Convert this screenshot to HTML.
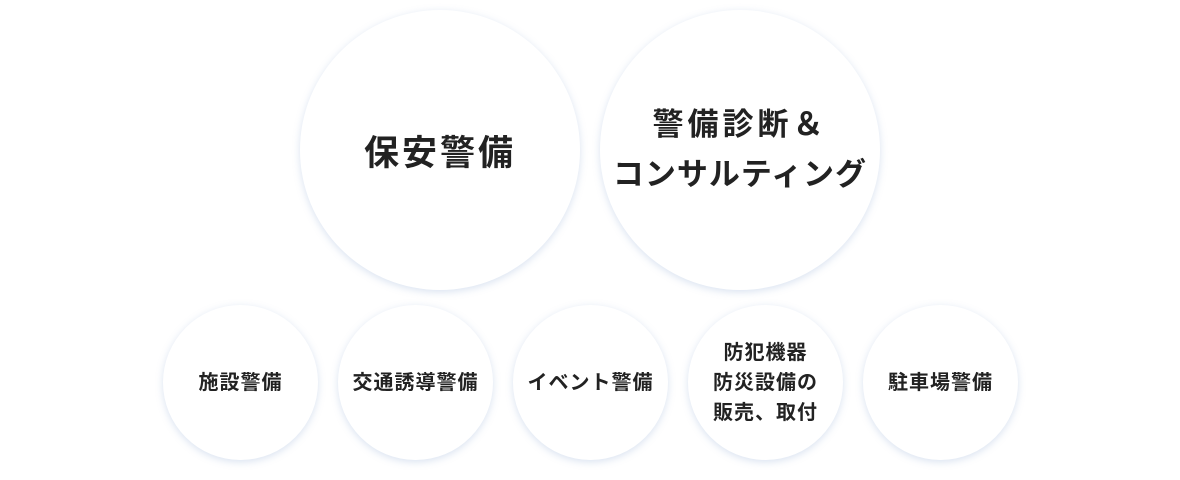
<!DOCTYPE html>
<html><head><meta charset="utf-8"><style>
html,body{margin:0;padding:0;background:#fff;width:1180px;height:480px;overflow:hidden}
.c{position:absolute;border-radius:50%;background:#fff;box-shadow:0 2px 8px rgba(120,150,200,0.28);display:flex;align-items:center;justify-content:center;text-align:center;font-family:"Liberation Sans","Noto Sans CJK JP",sans-serif;font-weight:bold;color:#222}
.b{width:280px;height:280px;top:10px}
.s{width:155px;height:155px;top:305px;font-size:20px;line-height:30px;letter-spacing:1px}
</style></head><body>
<div class="c b" style="left:300px;font-size:35px;letter-spacing:3px">保安警備</div>
<div class="c b" style="left:600px;font-size:31px;line-height:50px;letter-spacing:1px"><div><span style="letter-spacing:4px">警備診断＆</span><br>コンサルティング</div></div>
<div class="c s" style="left:163px">施設警備</div>
<div class="c s" style="left:338px">交通誘導警備</div>
<div class="c s" style="left:513px">イベント警備</div>
<div class="c s" style="left:688px">防犯機器<br>防災設備の<br>販売、取付</div>
<div class="c s" style="left:863px">駐車場警備</div>
</body></html>
